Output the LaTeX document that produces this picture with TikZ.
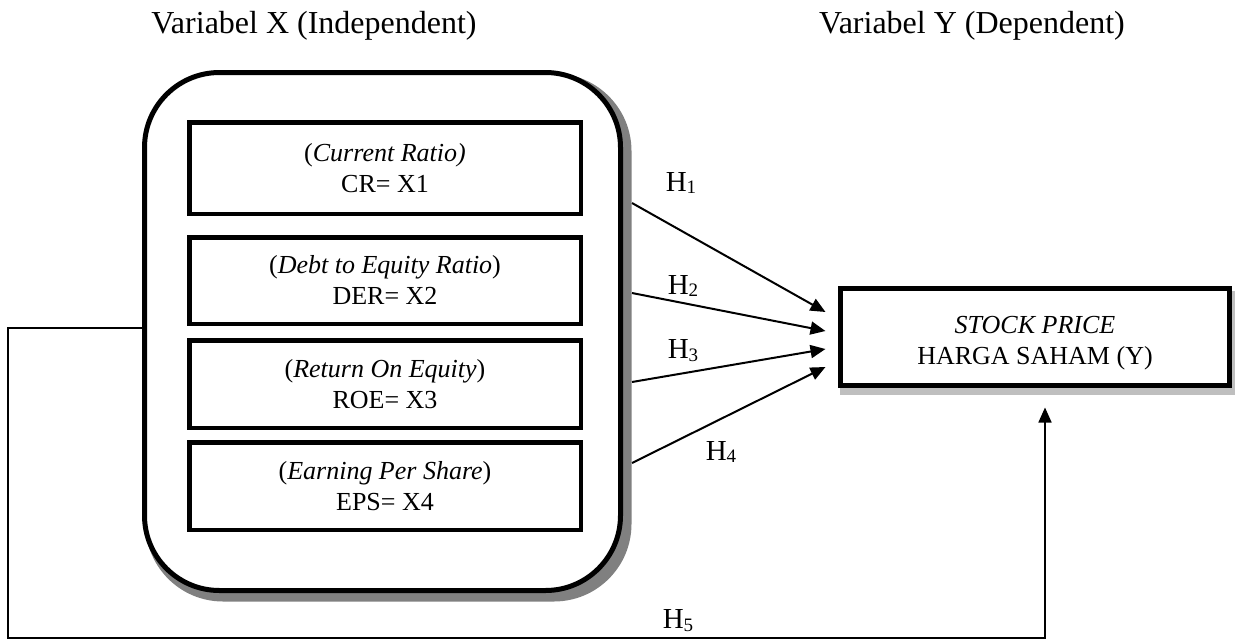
\documentclass[tikz,border=0pt]{standalone}
\usepackage{fontspec}
\setmainfont{Liberation Serif}
\usetikzlibrary{arrows.meta,backgrounds}
\newcommand{\hsub}[1]{H\raisebox{-0.22ex}{\fontsize{19}{20}\selectfont #1}}
\begin{document}
\begin{tikzpicture}[x=1pt,y=-1pt,
  title/.style={font=\fontsize{32}{36}\selectfont, anchor=base, inner sep=0pt},
  bigbox/.style={draw, line width=5pt, fill=white, rounded corners=75pt, minimum width=476pt, minimum height=518pt, inner sep=0pt},
  varbox/.style={draw, line width=4.5pt, fill=white, minimum width=391.5pt, align=center, font=\fontsize{26}{31}\selectfont, inner sep=0pt},
  ybox/.style={draw, line width=5pt, fill=white, minimum width=389pt, minimum height=97pt, align=center, font=\fontsize{26}{31}\selectfont, inner sep=0pt},
  hlab/.style={font=\fontsize{29}{32}\selectfont, inner sep=0pt},
  arr/.style={line width=2pt, -{Triangle[length=15pt,width=13pt]}},
  fb/.style={line width=1.6pt, -{Triangle[length=15pt,width=13pt]}}
]
\useasboundingbox (0,0) rectangle (1235,640);

\node[title] (tx) at (314,33) {Variabel X (Independent)};
\node[title] (ty) at (972,33) {Variabel Y (Dependent)};

\node[bigbox] (X) at (382.5,331.5) {};
\begin{scope}[on background layer]
  \draw[black!50, fill=black!50, line width=5pt, rounded corners=75pt]
    ([shift={(6,6)}]X.south west) rectangle ([shift={(6,6)}]X.north east);
\end{scope}

\node[varbox, minimum height=91.5pt] (x1) at (385,168) {(\textit{Current Ratio)}\\CR= X1};
\node[varbox, minimum height=86.5pt] (x2) at (385,280.5) {(\textit{Debt to Equity Ratio})\\DER= X2};
\node[varbox, minimum height=87.5pt] (x3) at (385,384) {(\textit{Return On Equity})\\ROE= X3};
\node[varbox, minimum height=87.5pt] (x4) at (385,486) {(\textit{Earning Per Share})\\EPS= X4};

\node[ybox] (Y) at (1035,337) {\rule{0pt}{29pt}\textit{STOCK PRICE}\\HARGA SAHAM (Y)};
\begin{scope}[on background layer]
  \draw[black!25, fill=black!25, line width=2pt]
    ([shift={(3,6)}]Y.south west) rectangle ([shift={(3,6)}]Y.north east);
\end{scope}

\draw[arr] ([xshift=9pt]X.east |- 0,203) -- ([xshift=-12.5pt]Y.west |- 0,312);
\draw[arr] ([xshift=9pt]X.east |- 0,293) -- ([xshift=-12.5pt]Y.west |- 0,331);
\draw[arr] ([xshift=9pt]X.east |- 0,382) -- ([xshift=-12.5pt]Y.west |- 0,349);
\draw[arr] ([xshift=9pt]X.east |- 0,463) -- ([xshift=-12.5pt]Y.west |- 0,367);

\node[hlab] (h1) at (681,183) {\hsub{1}};
\node[hlab] (h2) at (683,286) {\hsub{2}};
\node[hlab] (h3) at (683,351) {\hsub{3}};
\node[hlab] (h4) at (721,452) {\hsub{4}};
\node[hlab] (h5) at (678,621) {\hsub{5}};

\coordinate (bl) at (8,638);
\coordinate (br) at (1045,638);
\draw[fb] (X.west |- 0,328) -- (bl |- 0,328) -- (bl) -- (br) -- ([yshift=-19.5pt]br |- Y.south);
\end{tikzpicture}
\end{document}
